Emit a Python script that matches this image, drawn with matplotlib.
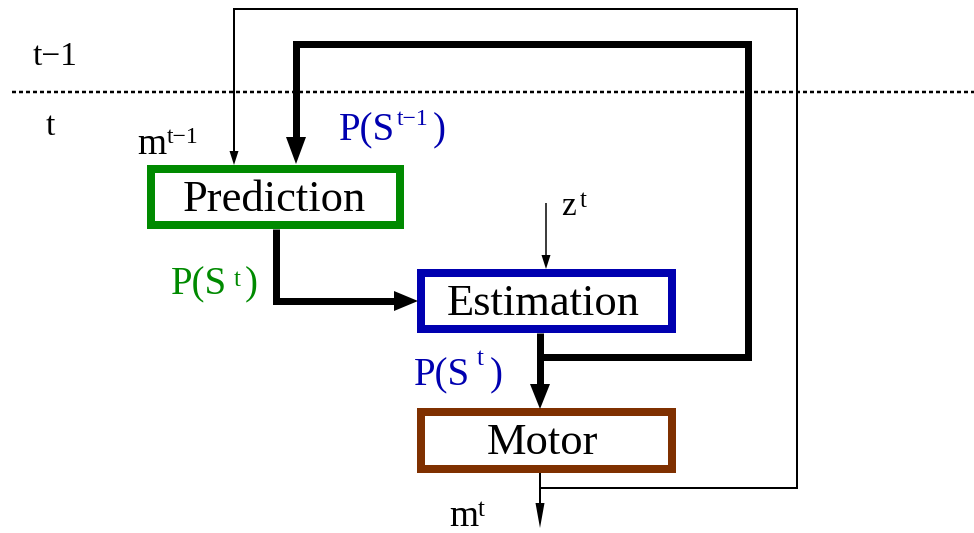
import matplotlib.pyplot as plt
from matplotlib.patches import Rectangle, Polygon

PX = 0.72  # points per pixel at dpi 100

# boxes: label, (x0, y0, x1, y1) of the stroke centre, edge colour
box_names = ["Prediction", "Estimation", "Motor"]
box_rects = [(151, 169, 400, 225), (421, 273, 672, 329), (421, 412, 672, 469)]
box_colors = ["#008a00", "#0000b0", "#7f3000"]
box_text_pos = [(274, 211), (543, 315), (543, 454)]

FONT = "Liberation Serif"


def get_fig():
    fig = plt.figure(figsize=(9.74, 5.33), dpi=100)
    ax = fig.add_axes([0, 0, 1, 1])
    ax.set_xlim(0, 974)
    ax.set_ylim(533, 0)
    ax.axis("off")
    return fig, ax


def arrow(ax, pts, lw, head_len, head_w, head=True):
    xs = [p[0] for p in pts]
    ys = [p[1] for p in pts]
    if head:
        # pull the last point back so the line ends at the head base
        dx = xs[-1] - xs[-2]
        dy = ys[-1] - ys[-2]
        n = (dx ** 2 + dy ** 2) ** 0.5
        ux, uy = dx / n, dy / n
        tip = (xs[-1], ys[-1])
        base = (tip[0] - ux * head_len, tip[1] - uy * head_len)
        xs[-1], ys[-1] = base[0] + ux * 2, base[1] + uy * 2
        px, py = -uy, ux
        tri = [tip,
               (base[0] + px * head_w, base[1] + py * head_w),
               (base[0] - px * head_w, base[1] - py * head_w)]
        ax.add_patch(Polygon(tri, closed=True, color="black", lw=0))
    ax.plot(xs, ys, color="black", lw=lw * PX,
            solid_joinstyle="miter", solid_capstyle="butt")


def txt(ax, x, y, s, size, color="black", ha="left"):
    ax.text(x, y, s, fontsize=size, color=color, ha=ha, va="baseline",
            family=[FONT, "DejaVu Serif"])


fig, ax = get_fig()

# time separator
ax.plot([12, 974], [92, 92], color="black", lw=2.5 * PX,
        linestyle=(0, (1.6, 1.2)))
txt(ax, 33, 65, "t\u22121", 24)
txt(ax, 46, 135, "t", 24)

# boxes
for name, (x0, y0, x1, y1), col, (tx, ty) in zip(box_names, box_rects,
                                                 box_colors, box_text_pos):
    ax.add_patch(Rectangle((x0, y0), x1 - x0, y1 - y0, fill=False,
                           edgecolor=col, lw=8 * PX, joinstyle="miter"))
    txt(ax, tx, ty, name, 32, ha="center")

# thin loop: motor output back to prediction
arrow(ax, [(540, 488), (797, 488), (797, 9), (234, 9), (234, 165)],
      2, 14, 4.5)
# thick loop: estimation state back to prediction
arrow(ax, [(540, 357), (748, 357), (748, 44), (296, 44), (296, 164)],
      7, 27, 10)
# prediction -> estimation
arrow(ax, [(276, 229), (276, 301), (418, 301)], 7, 24, 10)
# estimation -> motor
arrow(ax, [(540, 333), (540, 409)], 7, 25, 10)
# observation
arrow(ax, [(546, 203), (546, 269)], 1.5, 14, 4.5)
# motor output
arrow(ax, [(540, 473), (540, 528)], 2, 25, 4.5)

# labels
txt(ax, 137, 154, "m", 27)
txt(ax, 167, 143, "t\u22121", 17)

blue = box_colors[1]
green = box_colors[0]
txt(ax, 339, 140, "P(S", 28, blue)
txt(ax, 397, 125, "t\u22121", 17, blue)
txt(ax, 433, 140, ")", 28, blue)

txt(ax, 171, 294, "P(S", 28, green)
txt(ax, 234, 286, "t", 18, green)
txt(ax, 245, 294, ")", 28, green)

txt(ax, 414, 385, "P(S", 28, blue)
txt(ax, 477, 365, "t", 18, blue)
txt(ax, 490, 385, ")", 28, blue)

txt(ax, 561, 215, "z", 24)
txt(ax, 580, 207, "t", 18)

txt(ax, 449, 526, "m", 27)
txt(ax, 478, 516, "t", 18)

fig.savefig("out.png", dpi=100)
